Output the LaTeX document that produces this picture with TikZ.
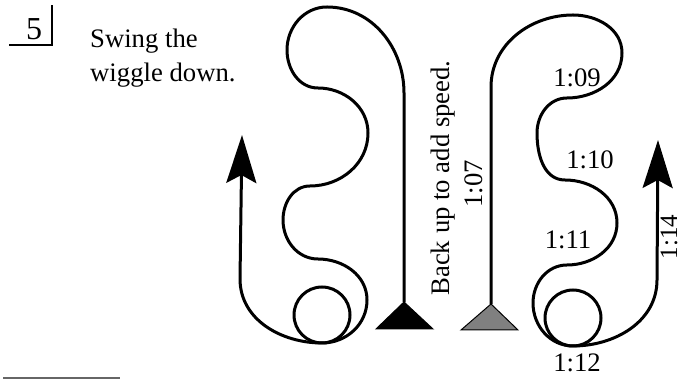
\documentclass[tikz,border=0pt]{standalone}
\usepackage{fontspec}
\setmainfont{Liberation Serif}
\usetikzlibrary{arrows.meta}

\begin{document}
\begin{tikzpicture}[x=1pt, y=1pt,
   track/.style={line width=3pt, line join=round},
   upend/.style={-{Stealth[length=48pt,width=30pt,inset=8pt]}},
   cone/.style={line width=1pt, line join=miter},
   lbl/.style={font=\fontsize{26.7}{34}\selectfont, inner sep=0pt},
   stamp/.style={line width=2pt}]
  \useasboundingbox (0,0) rectangle (682,379);
  % step number
  \node[lbl, font=\fontsize{32}{36}\selectfont, anchor=base] (stepno) at (34,339) {5};
  \draw[stamp] (9,334) -- (52,334) -- (52,374);
  \node[lbl, anchor=north west, align=left] (title) at (90,350) {Swing the\\wiggle down.};
  % left run
  \draw[track, upend] (404,77) -- (404,286) to[out=90,in=0] (327,372)
     to[out=180,in=90] (287,329) to[out=270,in=180] (318,291)
     to[out=0,in=90] (368,246) to[out=270,in=0] (310,193)
     to[out=180,in=90] (283,159) to[out=270,in=180] (318,120)
     to[out=0,in=90] (367,79) to[out=270,in=0] (322,36)
     to[out=180,in=270] (240,100) -- (242,244);
  \draw[track] (322,64) circle[radius=28];
  \draw[cone, fill=black] (404,77) coordinate (blackcone) -- (433,50) -- (376,50) -- cycle;
  % right run
  \draw[track, upend] (491,75) -- (491,292) to[out=90,in=180] (573,364)
     to[out=0,in=90] (622,326) to[out=270,in=0] (567,281)
     to[out=180,in=90] (537,246) to[out=270,in=180] (565,199)
     to[out=0,in=90] (617,156) to[out=270,in=0] (567,114)
     to[out=180,in=90] (533,76) to[out=270,in=180] (573,33)
     to[out=0,in=270] (657,99) -- (658,239);
  \draw[track] (573,61) circle[radius=28];
  \draw[cone, fill=black!50] (491,75) coordinate (greycone) -- (518,49) -- (461,49) -- cycle;
  % labels
  \node[lbl, rotate=90] (backup) at (443,201) {Back up to add speed.};
  \node[lbl, rotate=90] (t107) at (474,195) {1:07};
  \node[lbl] (t109) at (577,301) {1:09};
  \node[lbl] (t110) at (590,219) {1:10};
  \node[lbl] (t111) at (568,139) {1:11};
  \node[lbl] (t112) at (577,16) {1:12};
  \node[lbl, font=\fontsize{25}{30}\selectfont, rotate=90] (t114) at (669,142) {1:14};
  \draw[stamp, black!60] (3,1) -- (120,1);
\end{tikzpicture}
\end{document}
